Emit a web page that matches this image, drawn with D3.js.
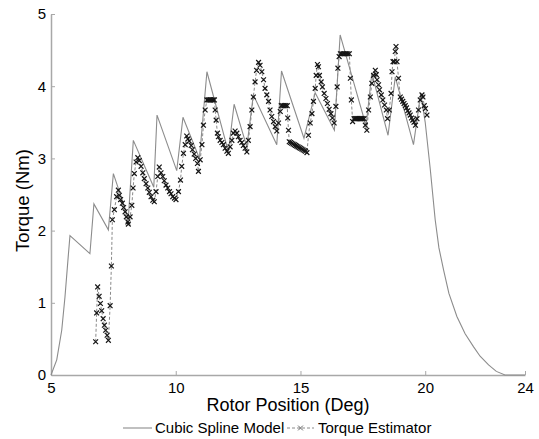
<!DOCTYPE html>
<html>
<head>
<meta charset="utf-8">
<script src="https://cdn.jsdelivr.net/npm/d3@7"></script>
<style>
  body { margin: 0; background: #fff; }
  svg text { font-family: "Liberation Sans", Arial, sans-serif; fill: #000; }
</style>
</head>
<body>
<svg id="chart" width="539" height="439"></svg>
<script>
// Cubic spline model (gray solid line)
const splineX = [5.0, 5.23, 5.43, 5.56, 5.69, 5.76, 6.56, 6.72, 7.30, 7.50, 8.10, 8.30, 9.12, 9.25,
  10.04, 10.29, 10.95, 11.25, 12.11, 12.34, 12.85, 13.11, 14.05, 14.24, 15.14, 15.59, 16.36, 16.59,
  17.63, 17.86, 18.51, 18.80, 19.53, 19.82, 20.00, 20.20, 20.40, 20.55, 20.74, 20.95, 21.27, 21.60,
  21.94, 22.20, 22.54, 22.85, 23.2, 24.0];
const splineY = [0, 0.21, 0.62, 1.08, 1.64, 1.93, 1.68, 2.37, 2.01, 2.79, 2.17, 3.25, 2.60, 3.60,
  2.83, 3.57, 3.00, 4.20, 3.09, 3.75, 3.16, 3.88, 3.19, 4.21, 3.28, 3.91, 3.39, 4.71,
  3.45, 4.18, 3.32, 4.13, 3.19, 3.90, 3.50, 2.86, 2.15, 1.76, 1.45, 1.13, 0.81, 0.57,
  0.39, 0.26, 0.14, 0.05, 0.0, 0.0];

// Torque estimator (dashed line with x markers)
const estX = [6.79, 6.83, 6.87, 6.93, 6.98, 7.03, 7.09, 7.14, 7.19, 7.25, 7.30, 7.37, 7.42,
  7.46, 7.54, 7.63, 7.70, 7.74, 7.79, 7.86, 7.91, 7.97, 8.02, 8.08, 8.10, 8.17, 8.24, 8.29, 8.34,
  8.41, 8.48, 8.54, 8.61, 8.68, 8.74, 8.81, 8.88, 8.94, 9.01, 9.08, 9.14, 9.21, 9.28, 9.34,
  9.41, 9.48, 9.54, 9.61, 9.68, 9.75, 9.81, 9.88, 9.95, 10.01, 10.11, 10.19, 10.24, 10.31, 10.38,
  10.44, 10.49, 10.54, 10.62, 10.67, 10.74, 10.80, 10.87, 10.91, 10.98, 11.05, 11.11, 11.18,
  11.25, 11.30, 11.35, 11.40, 11.45, 11.50, 11.55, 11.58, 11.62, 11.67, 11.71, 11.78, 11.85,
  11.91, 11.98, 12.05, 12.11, 12.18, 12.25, 12.31, 12.38, 12.45, 12.51, 12.58, 12.65, 12.71,
  12.78, 12.85, 12.91, 12.98, 13.05, 13.11, 13.18, 13.24, 13.32, 13.38, 13.45, 13.52, 13.58,
  13.65, 13.72, 13.78, 13.85, 13.92, 13.99, 14.05, 14.12, 14.19, 14.23, 14.29, 14.35, 14.41,
  14.47, 14.49, 14.52, 14.55, 14.60, 14.65, 14.70, 14.75, 14.80, 14.85, 14.90, 14.95, 15.00,
  15.05, 15.10, 15.15, 15.20, 15.26, 15.32, 15.39, 15.46, 15.52, 15.59, 15.63, 15.68, 15.72,
  15.76, 15.83, 15.88, 15.95, 16.02, 16.08, 16.15, 16.22, 16.28, 16.35, 16.42, 16.47, 16.50,
  16.55, 16.60, 16.66, 16.72, 16.78, 16.84, 16.90, 16.96, 17.00, 17.04, 17.09, 17.15, 17.20,
  17.25, 17.30, 17.35, 17.40, 17.45, 17.50, 17.55, 17.60, 17.66, 17.73, 17.80, 17.86, 17.93,
  18.00, 18.04, 18.07, 18.13, 18.17, 18.24, 18.30, 18.37, 18.44, 18.49, 18.56, 18.63, 18.67,
  18.71, 18.76, 18.80, 18.83, 18.87, 18.93, 19.00, 19.05, 19.10, 19.15, 19.20, 19.25, 19.30,
  19.35, 19.40, 19.45, 19.50, 19.55, 19.61, 19.67, 19.73, 19.80, 19.87, 19.91, 19.96, 20.01, 20.07];
const estY = [0.46, 0.86, 1.22, 1.09, 0.99, 0.89, 0.78, 0.69, 0.62, 0.55, 0.48, 0.96, 1.51,
  2.15, 2.29, 2.47, 2.56, 2.49, 2.43, 2.38, 2.32, 2.26, 2.19, 2.12, 2.09, 2.19, 2.35, 2.59, 2.79,
  2.95, 3.01, 2.97, 2.89, 2.80, 2.72, 2.65, 2.59, 2.53, 2.47, 2.42, 2.40, 2.54, 2.75, 2.88,
  2.80, 2.75, 2.69, 2.63, 2.59, 2.54, 2.51, 2.47, 2.45, 2.43, 2.54, 2.70, 2.89, 3.07, 3.19,
  3.31, 3.27, 3.24, 3.18, 3.12, 3.06, 3.00, 2.93, 2.82, 2.98, 3.19, 3.46, 3.67,
  3.81, 3.81, 3.81, 3.81, 3.81, 3.81, 3.81, 3.67, 3.53, 3.35, 3.30, 3.25, 3.22,
  3.19, 3.14, 3.10, 3.07, 3.16, 3.25, 3.35, 3.38, 3.35, 3.30, 3.25, 3.22, 3.18,
  3.14, 3.09, 3.25, 3.44, 3.67, 3.85, 4.06, 4.22, 4.33, 4.29, 4.20, 4.09, 3.97,
  3.88, 3.79, 3.67, 3.58, 3.51, 3.44, 3.38, 3.49, 3.65, 3.73, 3.73, 3.73, 3.73,
  3.73, 3.56, 3.39, 3.23, 3.22, 3.21, 3.20, 3.19, 3.18, 3.17, 3.16, 3.15, 3.14,
  3.13, 3.12, 3.11, 3.10, 3.08, 3.32, 3.49, 3.62, 3.79, 3.97, 4.15, 4.30, 4.27,
  4.15, 4.06, 3.99, 3.90, 3.83, 3.76, 3.68, 3.62, 3.56, 3.49, 3.72, 3.99, 4.25,
  4.41, 4.45, 4.45, 4.45, 4.45, 4.45, 4.45, 4.45, 4.11, 3.81, 3.51, 3.55, 3.55,
  3.55, 3.55, 3.55, 3.55, 3.55, 3.55, 3.55, 3.46, 3.39, 3.67, 3.85, 4.04, 4.15,
  4.22, 4.16, 4.09, 4.02, 3.95, 3.88, 3.81, 3.74, 3.67, 3.55, 3.67, 3.90, 4.20,
  4.34, 4.34, 4.48, 4.55, 4.34, 4.11, 3.85, 3.82, 3.79, 3.76, 3.73, 3.70, 3.66,
  3.63, 3.60, 3.56, 3.53, 3.50, 3.46, 3.55, 3.67, 3.81, 3.88, 3.85, 3.73, 3.69, 3.60];

const xTicks = [5, 10, 15, 20, 24];
const yTicks = [0, 1, 2, 3, 4, 5];
const legendLabels = ["Cubic Spline Model", "Torque Estimator"];

const svg = d3.select("#chart");
const plot = {left: 51, right: 525, top: 14, bottom: 375};

const x = d3.scaleLinear().domain([5, 24]).range([plot.left, plot.right]);
const y = d3.scaleLinear().domain([0, 5]).range([plot.bottom, plot.top]);

const axisColor = "#a8a8a8";

// axes (MATLAB style, ticks inward, no box)
const xAxis = svg.append("g")
    .attr("transform", `translate(0,${plot.bottom})`)
    .call(d3.axisBottom(x).tickValues(xTicks).tickSize(-4).tickPadding(7).tickSizeOuter(0).tickFormat(d3.format("d")));
const yAxis = svg.append("g")
    .attr("transform", `translate(${plot.left},0)`)
    .call(d3.axisLeft(y).tickValues(yTicks).tickSize(-4).tickPadding(5).tickSizeOuter(0).tickFormat(d3.format("d")));

[xAxis, yAxis].forEach(g => {
    g.select(".domain").attr("stroke", axisColor).attr("stroke-width", 1.5);
    g.selectAll(".tick line").attr("stroke", axisColor).attr("stroke-width", 1);
    g.selectAll(".tick text").style("font-size", "15px").attr("fill", "#000");
});

// axis titles
svg.append("text")
    .attr("x", (plot.left + plot.right) / 2)
    .attr("y", 411)
    .attr("text-anchor", "middle")
    .style("font-size", "18px")
    .text("Rotor Position (Deg)");

svg.append("text")
    .attr("transform", `translate(29,${(plot.top + plot.bottom) / 2 + 6}) rotate(-90)`)
    .attr("text-anchor", "middle")
    .style("font-size", "18.5px")
    .text("Torque (Nm)");

const spline = splineX.map((d, i) => [d, splineY[i]]);
const est = estX.map((d, i) => [d, estY[i]]);

const line = d3.line().x(d => x(d[0])).y(d => y(d[1]));

svg.append("path")
    .datum(spline)
    .attr("fill", "none")
    .attr("stroke", "#8c8c8c")
    .attr("stroke-width", 1.1)
    .attr("d", line);

svg.append("path")
    .datum(est)
    .attr("fill", "none")
    .attr("stroke", "#8a8a8a")
    .attr("stroke-width", 1)
    .attr("stroke-dasharray", "3,2")
    .attr("d", line);

// x markers
const ms = 2.4;
const markerPath = (cx, cy) => `M${cx - ms},${cy - ms}L${cx + ms},${cy + ms}M${cx - ms},${cy + ms}L${cx + ms},${cy - ms}`;

svg.append("g")
    .selectAll("path")
    .data(est)
    .join("path")
    .attr("d", d => markerPath(x(d[0]), y(d[1])))
    .attr("stroke", "#151515")
    .attr("stroke-width", 1.2)
    .attr("fill", "none");

// legend
const legY = 428;
const leg = svg.append("g");
leg.append("line")
    .attr("x1", 123).attr("x2", 152).attr("y1", legY).attr("y2", legY)
    .attr("stroke", "#8c8c8c").attr("stroke-width", 1.1);
leg.append("text")
    .attr("x", 155).attr("y", legY + 5)
    .style("font-size", "15px")
    .text(legendLabels[0]);
leg.append("line")
    .attr("x1", 287).attr("x2", 314).attr("y1", legY).attr("y2", legY)
    .attr("stroke", "#8a8a8a").attr("stroke-dasharray", "3,2").attr("stroke-width", 1);
leg.append("path")
    .attr("d", markerPath(300.5, legY))
    .attr("stroke", "#6a6a6a").attr("stroke-width", 1).attr("fill", "none");
leg.append("text")
    .attr("x", 318).attr("y", legY + 5)
    .style("font-size", "15px")
    .text(legendLabels[1]);
</script>
</body>
</html>
